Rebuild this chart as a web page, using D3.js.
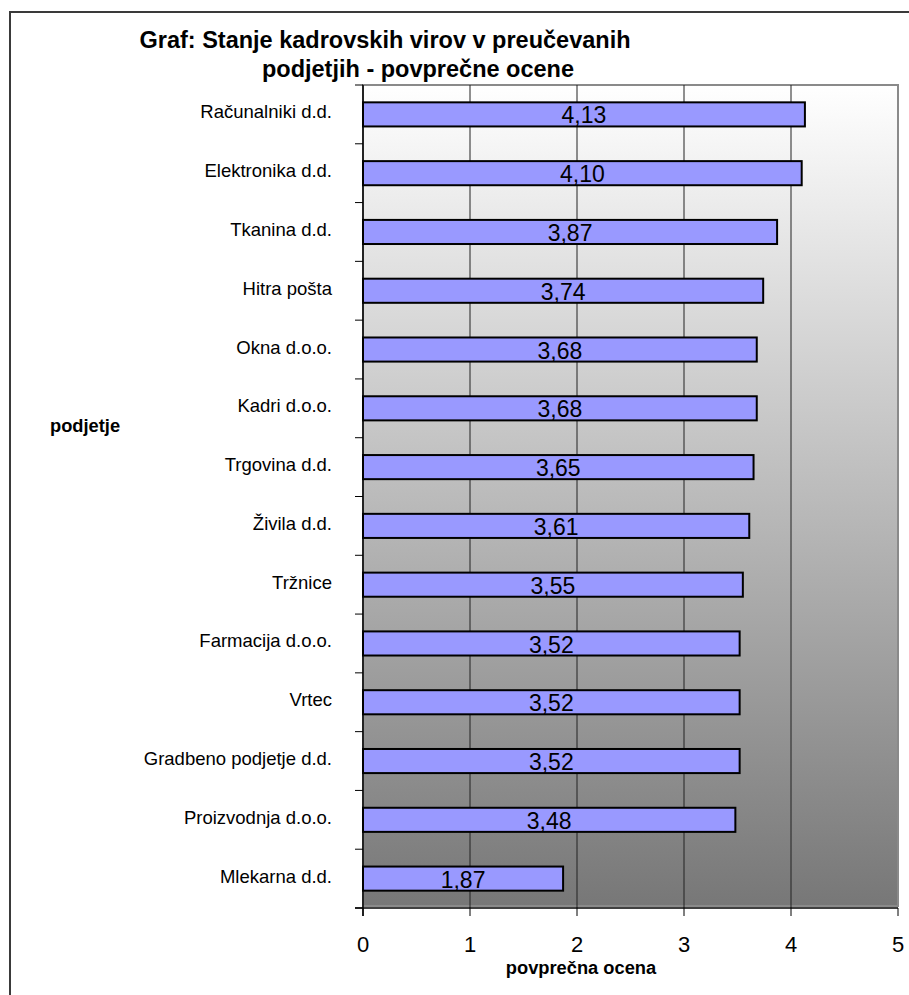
<!DOCTYPE html>
<html>
<head>
<meta charset="utf-8">
<script src="https://cdn.jsdelivr.net/npm/d3@7"></script>
<style>
  html, body { margin: 0; padding: 0; background: #ffffff; }
  svg { display: block; font-family: "Liberation Sans", Arial, sans-serif; }
</style>
</head>
<body>
<svg id="chart" width="909" height="995"></svg>
<script>
// Companies and their average scores
const categories = [
  "Računalniki d.d.", "Elektronika d.d.", "Tkanina d.d.", "Hitra pošta",
  "Okna d.o.o.", "Kadri d.o.o.", "Trgovina d.d.", "Živila d.d.", "Tržnice",
  "Farmacija d.o.o.", "Vrtec", "Gradbeno podjetje d.d.", "Proizvodnja d.o.o.",
  "Mlekarna d.d."
];
const values = [4.13, 4.10, 3.87, 3.74, 3.68, 3.68, 3.65, 3.61, 3.55, 3.52, 3.52, 3.52, 3.48, 1.87];
const xTicks = [0, 1, 2, 3, 4, 5];
const titleLines = ["Graf: Stanje kadrovskih virov v preučevanih", "podjetjih - povprečne ocene"];
const xTitle = "povprečna ocena";
const yTitle = "podjetje";

const svg = d3.select("#chart");
const plot = { left: 363, right: 898, top: 85, bottom: 908 };

const x = d3.scaleLinear().domain([0, 5]).range([plot.left, plot.right]);
const y = d3.scaleBand().domain(categories)
  .range([plot.top, plot.bottom]).paddingInner(0.59).paddingOuter(0.295);

const fmt = v => d3.format(".2f")(v).replace(".", ",");

// Outer chart frame
svg.append("rect")
  .attr("x", 10).attr("y", 12).attr("width", 1000).attr("height", 1000)
  .attr("fill", "#ffffff").attr("stroke", "#3a3a3a").attr("stroke-width", 2);

// Plot area background gradient
const defs = svg.append("defs");
const grad = defs.append("linearGradient").attr("id", "bg")
  .attr("x1", 0).attr("y1", 0).attr("x2", 0).attr("y2", 1);
grad.append("stop").attr("offset", "0%").attr("stop-color", "#ffffff");
grad.append("stop").attr("offset", "100%").attr("stop-color", "#777777");

svg.append("rect")
  .attr("x", plot.left).attr("y", plot.top)
  .attr("width", plot.right - plot.left).attr("height", plot.bottom - plot.top - 2)
  .attr("fill", "url(#bg)").attr("stroke", "#8a8a8a").attr("stroke-width", 2);

// Vertical gridlines
svg.append("g").selectAll("line")
  .data(xTicks.filter(t => t > 0 && t < 5))
  .join("line")
  .attr("x1", d => x(d)).attr("x2", d => x(d))
  .attr("y1", plot.top).attr("y2", plot.bottom)
  .attr("stroke", "#222").attr("stroke-width", 1);

// Bars
svg.append("g").selectAll("rect")
  .data(categories)
  .join("rect")
  .attr("x", x(0))
  .attr("y", d => y(d))
  .attr("width", (d, i) => x(values[i]) - x(0))
  .attr("height", y.bandwidth())
  .attr("fill", "#9999ff")
  .attr("stroke", "#000").attr("stroke-width", 2);

// Value labels inside bars
svg.append("g").selectAll("text")
  .data(categories)
  .join("text")
  .attr("x", (d, i) => (x(0) + x(values[i])) / 2)
  .attr("y", d => y(d) + y.bandwidth() - 3)
  .attr("text-anchor", "middle")
  .attr("font-size", 23)
  .attr("fill", "#000")
  .text((d, i) => fmt(values[i]));

// Y axis: line, ticks at category boundaries, labels
const step = y.step();
svg.append("line")
  .attr("x1", plot.left).attr("x2", plot.left)
  .attr("y1", plot.top).attr("y2", plot.bottom + 8)
  .attr("stroke", "#000").attr("stroke-width", 1.5);
svg.append("g").selectAll("line")
  .data(d3.range(categories.length + 1))
  .join("line")
  .attr("x1", plot.left - 8).attr("x2", plot.left)
  .attr("y1", i => plot.top + i * step).attr("y2", i => plot.top + i * step)
  .attr("stroke", "#000").attr("stroke-width", 1);
svg.append("g").selectAll("text")
  .data(categories)
  .join("text")
  .attr("x", 332)
  .attr("y", d => y(d) + y.bandwidth() / 2 + 4)
  .attr("text-anchor", "end")
  .attr("font-size", 18.5)
  .attr("fill", "#000")
  .text(d => d);

// X axis: line, ticks, labels
svg.append("line")
  .attr("x1", plot.left - 8).attr("x2", plot.right)
  .attr("y1", plot.bottom).attr("y2", plot.bottom)
  .attr("stroke", "#000").attr("stroke-width", 1.5);
svg.append("g").selectAll("line")
  .data(xTicks)
  .join("line")
  .attr("x1", d => x(d)).attr("x2", d => x(d))
  .attr("y1", plot.bottom).attr("y2", plot.bottom + 8)
  .attr("stroke", "#000").attr("stroke-width", 1);
svg.append("g").selectAll("text")
  .data(xTicks)
  .join("text")
  .attr("x", d => x(d))
  .attr("y", 952)
  .attr("text-anchor", "middle")
  .attr("font-size", 22)
  .attr("fill", "#000")
  .text(d => d);

// Axis titles
svg.append("text")
  .attr("x", 581).attr("y", 974)
  .attr("text-anchor", "middle")
  .attr("font-size", 18.3).attr("font-weight", "bold")
  .text(xTitle);
svg.append("text")
  .attr("x", 50).attr("y", 432)
  .attr("font-size", 18.3).attr("font-weight", "bold")
  .text(yTitle);

// Chart title (two lines)
svg.append("text")
  .attr("x", 385).attr("y", 48)
  .attr("text-anchor", "middle")
  .attr("font-size", 23.5).attr("font-weight", "bold")
  .text(titleLines[0]);
svg.append("text")
  .attr("x", 418).attr("y", 77)
  .attr("text-anchor", "middle")
  .attr("font-size", 23.5).attr("font-weight", "bold")
  .text(titleLines[1]);
</script>
</body>
</html>
